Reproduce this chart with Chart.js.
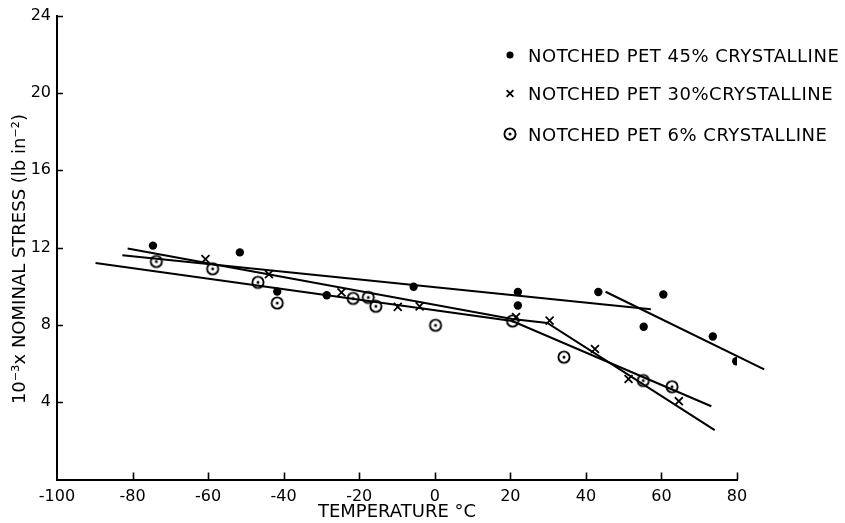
<!DOCTYPE html>
<html><head><meta charset="utf-8">
<script src="https://cdn.jsdelivr.net/npm/chart.js@4.4.1/dist/chart.umd.min.js"></script>
<style>html,body{margin:0;padding:0;background:#fff;}canvas{display:block;}</style>
</head><body>
<canvas id="c" width="845" height="523"></canvas>
<script>
// axis ticks
const xTicks = [-100, -80, -60, -40, -20, 0, 20, 40, 60, 80];
const yTicks = [0, 4, 8, 12, 16, 20, 24];
// NOTCHED PET 45% crystalline (filled dots)
const temp45   = [-74.6, -51.6, -41.7, -28.6, -5.6, 22, 22, 43.3, 55.3, 60.5, 73.6, 79.8];
const stress45 = [12.1, 11.75, 9.72, 9.53, 9.97, 9.7, 9.0, 9.7, 7.9, 9.57, 7.4, 6.12];
// NOTCHED PET 30% crystalline (crosses)
const temp30   = [-60.7, -43.9, -24.7, -9.8, -4.0, 21.5, 30.4, 42.4, 51.3, 64.6];
const stress30 = [11.4, 10.62, 9.68, 8.93, 8.96, 8.4, 8.22, 6.75, 5.2, 4.05];
// NOTCHED PET 6% crystalline (circled dots)
const temp6    = [-73.7, -58.8, -46.8, -41.7, -21.6, -17.6, -15.6, 0.2, 20.6, 34.2, 55.2, 62.8];
const stress6  = [11.28, 10.9, 10.2, 9.13, 9.37, 9.42, 8.96, 7.98, 8.2, 6.33, 5.12, 4.8];
// fitted lines
const fit45aT = [-82.7, 57.2],  fit45aS = [11.6, 8.81];
const fit45bT = [45.2, 87.2],   fit45bS = [9.71, 5.7];
const fit30T  = [-81.3, 20.5, 29.8, 74.1], fit30S = [11.95, 8.3, 8.1, 2.55];
const fit6T   = [-89.8, 20.5, 73.2],       fit6S  = [11.2, 8.2, 3.79];
const seriesLabels = ['NOTCHED PET 45% CRYSTALLINE', 'NOTCHED PET 30%CRYSTALLINE', 'NOTCHED PET 6% CRYSTALLINE'];

const INK = '#000';
function pts(t, s) { return t.map((v, i) => ({x: v, y: s[i]})); }
function ringDot() {
  const c = document.createElement('canvas'); c.width = 16; c.height = 16;
  const g = c.getContext('2d');
  g.strokeStyle = INK; g.lineWidth = 1.9;
  g.beginPath(); g.arc(8, 8, 5.6, 0, Math.PI * 2); g.stroke();
  g.fillStyle = INK; g.beginPath(); g.arc(8, 8, 1.5, 0, Math.PI * 2); g.fill();
  return c;
}
const ring = ringDot();
function fitLine(t, s) {
  return {data: pts(t, s), showLine: true, borderColor: INK, borderWidth: 2.1, pointRadius: 0, fill: false, tension: 0, clip: false};
}

const innerTicks = {
  id: 'innerTicks',
  afterDraw(chart) {
    const {ctx, chartArea: a, scales: {x, y}} = chart;
    ctx.save(); ctx.strokeStyle = INK; ctx.lineWidth = 1.6; ctx.beginPath();
    xTicks.forEach(v => { if (v === x.min) return; const p = Math.round(x.getPixelForValue(v)) + 0.5; ctx.moveTo(p, a.bottom); ctx.lineTo(p, a.bottom - 7); });
    yTicks.forEach(v => { if (v === y.min) return; const p = Math.round(y.getPixelForValue(v)) + 0.5; ctx.moveTo(a.left, p); ctx.lineTo(a.left + 6, p); });
    ctx.stroke(); ctx.restore();
  }
};
const legendBox = {
  id: 'legendBox',
  afterDraw(chart) {
    const ctx = chart.ctx; ctx.save();
    ctx.fillStyle = INK; ctx.strokeStyle = INK;
    ctx.font = '18px "DejaVu Sans"'; ctx.textBaseline = 'alphabetic'; ctx.textAlign = 'left';
    try { ctx.letterSpacing = '0.5px'; } catch (e) {}
    const markY = [55, 93.5, 134], baseY = [61.7, 99.5, 140.5];
    chart.data.datasets.slice(0, 3).forEach((ds, i) => {
      ctx.lineWidth = ds.borderWidth || 1;
      Chart.helpers.drawPoint(ctx, {pointStyle: ds.pointStyle, radius: ds.pointRadius * 0.85, borderWidth: ds.borderWidth, rotation: 0}, 510, markY[i]);
      ctx.fillText(seriesLabels[i], 528, baseY[i]);
    });
    ctx.restore();
  }
};

new Chart(document.getElementById('c'), {
  type: 'scatter',
  data: {datasets: [
    {label: seriesLabels[0], data: pts(temp45, stress45), pointStyle: 'circle', pointRadius: 4.2, backgroundColor: INK, borderColor: INK, borderWidth: 0},
    {label: seriesLabels[1], data: pts(temp30, stress30), pointStyle: 'crossRot', pointRadius: 5.6, backgroundColor: INK, borderColor: INK, borderWidth: 1.8},
    {label: seriesLabels[2], data: pts(temp6, stress6), pointStyle: ring, pointRadius: 6, backgroundColor: INK, borderColor: INK, borderWidth: 1.8},
    fitLine(fit45aT, fit45aS),
    fitLine(fit45bT, fit45bS),
    fitLine(fit30T, fit30S),
    fitLine(fit6T, fit6S)
  ]},
  options: {
    responsive: false, devicePixelRatio: 1, animation: false, events: [],
    layout: {padding: {top: 15, right: 108, left: 0, bottom: 0}},
    plugins: {legend: {display: false}, tooltip: {enabled: false}},
    scales: {
      x: {
        type: 'linear', min: -100, max: 80,
        afterFit(s) { s.height = 43.5; },
        afterBuildTicks(s) { s.ticks = xTicks.map(v => ({value: v})); },
        grid: {display: false, drawTicks: false},
        border: {display: true, color: INK, width: 2},
        ticks: {padding: 8, color: INK, font: {family: 'DejaVu Sans', size: 16}, maxRotation: 0, autoSkip: false},
        title: {display: true, text: 'TEMPERATURE °C', color: INK, font: {family: 'DejaVu Sans', size: 18}, padding: {top: 0, bottom: 0}}
      },
      y: {
        type: 'linear', min: 0, max: 24,
        afterFit(s) { s.width = 57; },
        afterBuildTicks(s) { s.ticks = yTicks.map(v => ({value: v})); },
        grid: {display: false, drawTicks: false},
        border: {display: true, color: INK, width: 2},
        ticks: {padding: 6, color: INK, font: {family: 'DejaVu Sans', size: 16}, callback: v => v === 0 ? '' : v},
        title: {display: true, text: '10⁻³x NOMINAL STRESS (lb in⁻²)    ', color: INK, font: {family: 'DejaVu Sans', size: 18}, padding: {top: 10, bottom: 0}}
      }
    }
  },
  plugins: [innerTicks, legendBox]
});
</script>
</body></html>
